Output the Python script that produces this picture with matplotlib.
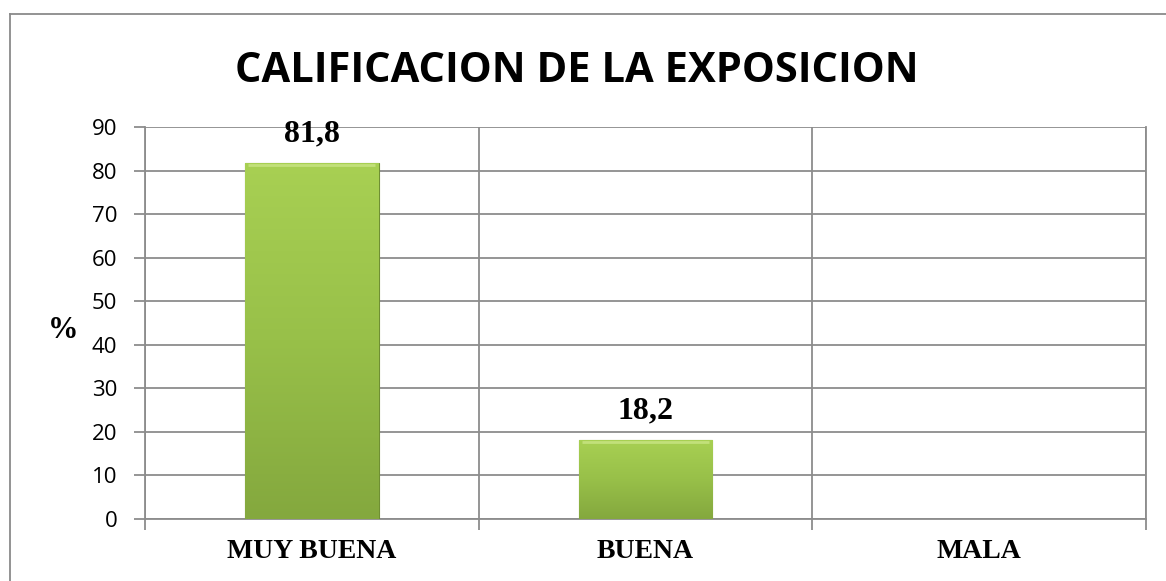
import numpy as np
import matplotlib
matplotlib.use('Agg')
import matplotlib.pyplot as plt
from matplotlib.lines import Line2D
from matplotlib.colors import LinearSegmentedColormap

# data
categories = ['MUY BUENA', 'BUENA', 'MALA']
values = [81.8, 18.2, 0.0]
value_labels = ['81,8', '18,2', '']
y_ticks = [0, 10, 20, 30, 40, 50, 60, 70, 80, 90]

GRID = '#8c8c8c'
SERIF = ['Liberation Serif', 'DejaVu Serif']
SANS = ['Open Sans', 'DejaVu Sans']

fig = plt.figure(figsize=(11.66, 5.81), dpi=100)
ax = fig.add_axes([145 / 1166, 1 - 519 / 581, 1001 / 1166, 392 / 581])

x = np.arange(len(categories))
bars = ax.bar(x, values, width=0.4, color='#95bb45', edgecolor='#6f8f33',
              linewidth=0.8, zorder=3)

# vertical gradient on each bar (light top, a bit darker bottom)
cmap = LinearSegmentedColormap.from_list('grn', ['#84a83e', '#98c049', '#a8d053'])
grad = np.linspace(0, 1, 256).reshape(-1, 1)
for b, v in zip(bars, values):
    if v <= 0:
        b.set_visible(False)
        continue
    x0 = b.get_x()
    im = ax.imshow(grad, cmap=cmap, origin='lower', aspect='auto',
                   extent=(x0, x0 + b.get_width(), 0, v), zorder=3.5)
    im.set_clip_path(b)
    # bevel highlight at top
    ax.plot([x0 + 0.01, x0 + b.get_width() - 0.01], [v - 0.6, v - 0.6],
            color='#c2e07a', linewidth=2, zorder=4, solid_capstyle='butt')

for xi, v, lab in zip(x, values, value_labels):
    if lab:
        ax.annotate(lab, (xi, v), xytext=(0, 10), textcoords='offset points',
                    ha='center', va='bottom', fontsize=23, fontweight='bold',
                    family=SERIF)

ax.set_xlim(-0.5, 2.5)
ax.set_ylim(0, 90)
ax.set_yticks(y_ticks)
ax.set_yticklabels([str(t) for t in y_ticks], family=SANS, fontsize=16)
ax.yaxis.grid(True, color=GRID, linewidth=1.3, zorder=0)

# category boundaries: gridlines + ticks
bounds = [-0.5, 0.5, 1.5, 2.5]
ax.set_xticks(bounds)
ax.set_xticklabels([])
ax.xaxis.grid(True, color=GRID, linewidth=1.3, zorder=0)
ax.set_axisbelow(True)
ax.tick_params(axis='both', length=8, width=1.3, color=GRID)
ax.tick_params(axis='y', pad=12)
for xi, name in zip(x, categories):
    ax.text(xi, -0.083, name, transform=ax.get_xaxis_transform(),
            ha='center', va='center', fontsize=20, fontweight='bold', family=SERIF)

for side in ['left', 'right', 'bottom', 'top']:
    ax.spines[side].set_color(GRID)
    ax.spines[side].set_linewidth(1.3)
ax.spines['top'].set_visible(False)

fig.text(63 / 1166, 1 - 330 / 581, '%', ha='center', va='center', fontsize=22,
         fontweight='bold', family=SERIF)
fig.text(577 / 1166, 1 - 71 / 581, 'CALIFICACION DE LA EXPOSICION', ha='center',
         va='center', fontsize=30, fontweight='bold', family=SANS)

# outer chart frame (only left and top edges visible)
fig.add_artist(Line2D([10 / 1166, 10 / 1166], [0, 1 - 14 / 581], color='#8a8a8a',
                      linewidth=1.3, transform=fig.transFigure))
fig.add_artist(Line2D([10 / 1166, 1], [1 - 14 / 581, 1 - 14 / 581], color='#8a8a8a',
                      linewidth=1.3, transform=fig.transFigure))

fig.savefig('out.png', dpi=100)
